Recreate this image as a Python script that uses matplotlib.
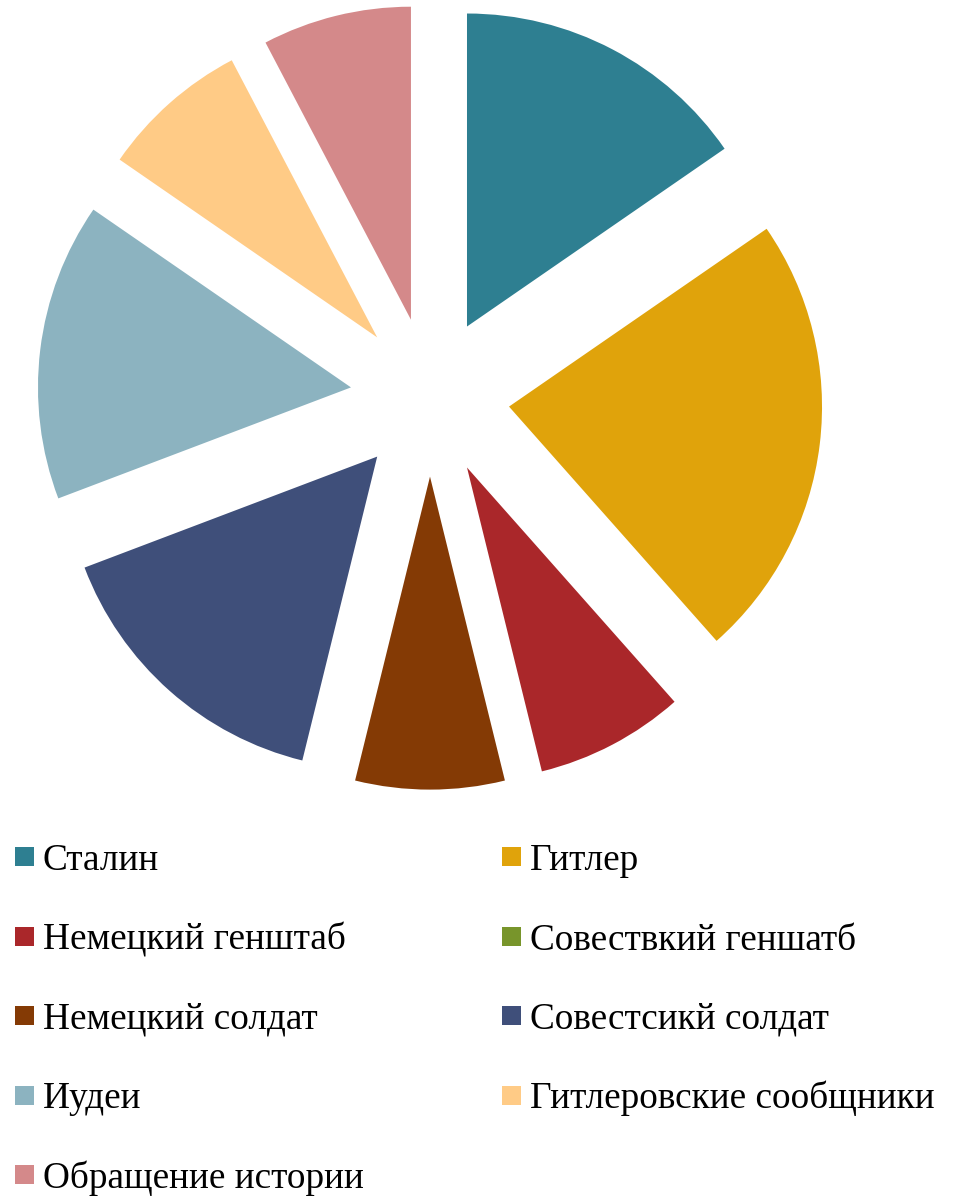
import matplotlib.pyplot as plt
from matplotlib.patches import Rectangle

# Data
labels = ['Сталин', 'Гитлер', 'Немецкий генштаб', 'Совествкий геншатб',
          'Немецкий солдат', 'Совестсикй солдат', 'Иудеи',
          'Гитлеровские сообщники', 'Обращение истории']
values = [2, 3, 1, 0, 1, 2, 2, 1, 1]
colors = ['#2E7F91', '#E0A30B', '#AA272A', '#78952B', '#843A05',
          '#3F4F7A', '#8CB3C0', '#FFCB86', '#D4898A']

W, H = 959, 1196
fig = plt.figure(figsize=(W / 100, H / 100), dpi=100)
ax = fig.add_axes([0, 0, 1, 1])

# Exploded pie, clockwise from 12 o'clock (explode is in data units here)
ax.pie(values, colors=colors, startangle=90, counterclock=False,
       explode=[79.6] * len(values), radius=313, center=(430, H - 397),
       wedgeprops=dict(linewidth=0), frame=True)
ax.set_xlim(0, W)
ax.set_ylim(0, H)
ax.set_aspect('equal')
ax.axis('off')

# Legend, two columns filled row by row
for i, (lab, col) in enumerate(zip(labels, colors)):
    row, c = divmod(i, 2)
    x0 = 15 + c * 487
    base = 870 + row * 79.5
    ax.add_patch(Rectangle((x0, H - (base - 4)), 19, 19, facecolor=col,
                           edgecolor='none'))
    ax.text(x0 + 28, H - base, lab, fontsize=26.8, family='Liberation Serif',
            va='baseline', ha='left', color='black')

plt.savefig('out.png', dpi=100)
plt.close()
